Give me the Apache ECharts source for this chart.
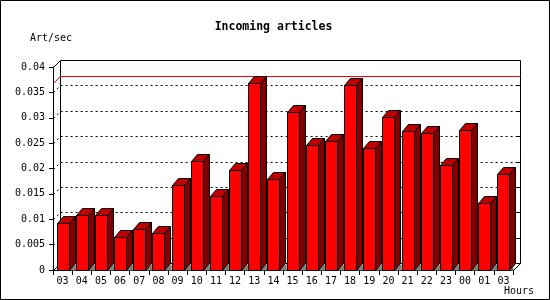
<!DOCTYPE html>
<html><head><meta charset="utf-8">
<script src="https://cdn.jsdelivr.net/npm/echarts@6/dist/echarts.min.js"></script>
<style>html,body{margin:0;padding:0;background:#fff}#c{width:550px;height:300px}</style>
</head><body><div id="c"></div>
<script>
const hours = ['03','04','05','06','07','08','09','10','11','12','13','14','15','16','17','18','19','20','21','22','23','00','01','03'];
const articlesPerSec = [0.0092,0.0108,0.0108,0.0066,0.0080,0.0072,0.0167,0.0214,0.0145,0.0198,0.0368,0.0179,0.0311,0.0246,0.0255,0.0364,0.0240,0.0301,0.0273,0.0269,0.0206,0.0275,0.0133,0.0189];
const yTickLabels = ['0','0.005','0.01','0.015','0.02','0.025','0.03','0.035','0.04'];
const titleText = 'Incoming articles';
const yName = 'Art/sec';
const xName = 'Hours';

const FONT = '"DejaVu Sans Mono", "Liberation Mono", monospace';
const yTickValues = yTickLabels.map(Number);
const yMax = yTickValues[yTickValues.length - 1];
const yInterval = yTickValues[1] - yTickValues[0];
const maxVal = Math.max.apply(null, articlesPerSec);
const DX = 7, DY = 7;       // depth of the frame
const BDX = 6, BDY = 7;     // depth of bars
const BAR_W = 12;
const px = v => Math.round(v) + 0.5;

function renderFrame(params, api) {
  const cs = params.coordSys;
  const x0 = px(cs.x), x1 = px(cs.x + cs.width);
  const yt = px(cs.y), yb = px(cs.y + cs.height);
  const ch = [];
  ch.push({type: 'polygon', shape: {points: [[x0 + DX, yt - DY], [x1 + DX, yt - DY], [x1 + DX, yb - DY], [x0 + DX, yb - DY]]},
    style: {fill: '#fff', stroke: '#000', lineWidth: 1}});
  for (let i = 1; i < yTickValues.length - 1; i++) {
    const y = px(api.coord([0, yTickValues[i]])[1]);
    ch.push({type: 'polyline', shape: {points: [[x0, y], [x0 + DX, y - DY], [x1 + DX, y - DY]]},
      style: {stroke: '#000', lineWidth: 1, lineDash: [2, 3], fill: null}});
    ch.push({type: 'line', shape: {x1: x1 + DX - 4, y1: y - DY, x2: x1 + DX, y2: y - DY},
      style: {stroke: '#000', lineWidth: 1}});
  }
  const ym = px(api.coord([0, maxVal])[1]);
  ch.push({type: 'polyline', shape: {points: [[x0, ym], [x0 + DX, ym - DY], [x1 + DX, ym - DY]]},
    style: {stroke: '#ff0000', lineWidth: 1, fill: null}});
  ch.push({type: 'line', shape: {x1: x0, y1: yt, x2: x0 + DX, y2: yt - DY}, style: {stroke: '#000', lineWidth: 1}});
  ch.push({type: 'line', shape: {x1: x0, y1: yb, x2: x0 + DX, y2: yb - DY}, style: {stroke: '#000', lineWidth: 1}});
  ch.push({type: 'line', shape: {x1: x1, y1: yb, x2: x1 + DX, y2: yb - DY}, style: {stroke: '#000', lineWidth: 1}});
  return {type: 'group', children: ch};
}

function renderBar(params, api) {
  const cs = params.coordSys;
  const xEnd = cs.x + cs.width;
  const c = api.coord([api.value(0), api.value(1)]);
  const base = api.coord([api.value(0), 0]);
  const band = api.size([1, 0])[0];
  const xl = px(c[0] - BAR_W / 2), xr = xl + BAR_W;
  const yt = px(c[1]), yb = px(base[1]);
  const nx = Math.min(xl + band, px(xEnd));
  const ch = [];
  ch.push({type: 'polygon', shape: {points: [[xr, yb], [nx, yb], [nx, yb - BDY + 1], [xr + BDX, yb - BDY + 1]]},
    style: {fill: '#808080', stroke: null}});
  ch.push({type: 'polygon', shape: {points: [[xr, yt], [xr + BDX, yt - BDY], [xr + BDX, yb - BDY], [xr, yb]]},
    style: {fill: '#800000', stroke: '#000', lineWidth: 1}});
  ch.push({type: 'polygon', shape: {points: [[xl, yt], [xl + BDX, yt - BDY], [xr + BDX, yt - BDY], [xr, yt]]},
    style: {fill: '#c00000', stroke: '#000', lineWidth: 1}});
  ch.push({type: 'polygon', shape: {points: [[xl, yt], [xr, yt], [xr, yb], [xl, yb]]},
    style: {fill: '#ff0000', stroke: '#000', lineWidth: 1}});
  return {type: 'group', children: ch};
}

const chart = echarts.init(document.getElementById('c'), null, {renderer: 'canvas'});
chart.setOption({
  animation: false,
  backgroundColor: '#fff',
  grid: {left: 53, right: 37, top: 67, bottom: 30, containLabel: false},
  xAxis: {
    type: 'category', data: hours, boundaryGap: true,
    axisLine: {show: true, lineStyle: {color: '#000', width: 1}},
    axisTick: {show: true, interval: 0, length: 5, lineStyle: {color: '#000'}},
    axisLabel: {interval: 0, margin: 6, color: '#000', fontFamily: FONT, fontSize: 10},
    splitLine: {show: false}
  },
  yAxis: {
    type: 'value', min: 0, max: yMax, interval: yInterval,
    axisLine: {show: true, lineStyle: {color: '#000', width: 1}},
    axisTick: {show: true, length: 4, lineStyle: {color: '#000'}},
    axisLabel: {margin: 8, color: '#000', fontFamily: FONT, fontSize: 10,
      formatter: (v) => { const i = Math.round(v / yInterval); return yTickLabels[i]; }},
    splitLine: {show: false}
  },
  graphic: [
    {type: 'rect', shape: {x: 0.5, y: 0.5, width: 549, height: 299}, style: {fill: null, stroke: '#000', lineWidth: 1}, z: 100},
    {type: 'text', x: 273.5, y: 27.5, style: {text: titleText, font: 'bold 11.5px ' + FONT, fill: '#000', align: 'center', verticalAlign: 'middle'}},
    {type: 'text', x: 30, y: 38, style: {text: yName, font: '10px ' + FONT, fill: '#000', align: 'left', verticalAlign: 'middle'}},
    {type: 'text', x: 519, y: 291.5, style: {text: xName, font: '10px ' + FONT, fill: '#000', align: 'center', verticalAlign: 'middle'}}
  ],
  series: [
    {type: 'custom', renderItem: renderFrame, data: [[0, 0]], clip: false, z: 1, silent: true},
    {type: 'custom', renderItem: renderBar, data: articlesPerSec.map((v, i) => [i, v]), clip: false, z: 2,
      encode: {x: 0, y: 1}}
  ]
});
</script></body></html>
